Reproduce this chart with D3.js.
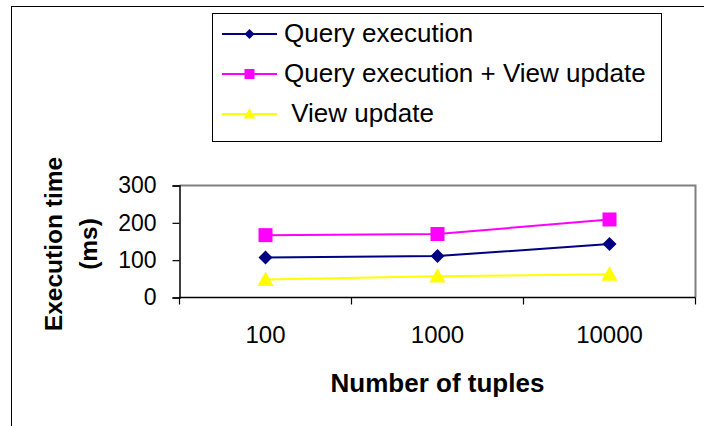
<!DOCTYPE html>
<html>
<head>
<meta charset="utf-8">
<script src="https://cdn.jsdelivr.net/npm/d3@7"></script>
<style>
  body { margin: 0; background: #fff; }
  svg { display: block; font-family: "Liberation Sans", Arial, sans-serif; }
</style>
</head>
<body>
<div id="chart"></div>
<script>
// chart data
const categories = ["100", "1000", "10000"];
const queryExec = [107, 111, 143];
const queryExecViewUpdate = [167, 170, 209];
const viewUpdate = [48, 57, 62];
const yTicks = [0, 100, 200, 300];

const seriesList = [
    { name: "Query execution", values: queryExec, color: "#000080", marker: "diamond" },
    { name: "Query execution + View update", values: queryExecViewUpdate, color: "#FF00FF", marker: "square" },
    { name: " View update", values: viewUpdate, color: "#FFFF00", marker: "triangle" }
];

const width = 704;
const height = 426;
const plot = { left: 179.5, right: 695.5, top: 185.5, bottom: 297.5 };

const svg = d3.select("#chart")
    .append("svg")
    .attr("width", width)
    .attr("height", height);

// outer chart border (extends past the window)
svg.append("rect")
    .attr("x", 11.5).attr("y", 6.5)
    .attr("width", 720).attr("height", 440)
    .attr("fill", "none")
    .attr("stroke", "#000")
    .attr("stroke-width", 1);

const x = d3.scaleBand()
    .domain(categories)
    .range([plot.left, plot.right])
    .padding(0);

const y = d3.scaleLinear()
    .domain([0, 300])
    .range([plot.bottom, plot.top]);

// plot area frame (gray top/right)
svg.append("path")
    .attr("d", `M${plot.left},${plot.top}H${plot.right}V${plot.bottom}`)
    .attr("fill", "none")
    .attr("stroke", "#808080")
    .attr("stroke-width", 2);

// y axis
const yAxis = svg.append("g")
    .attr("transform", `translate(${plot.left},0)`)
    .call(d3.axisLeft(y).tickValues(yTicks).tickSize(7).tickPadding(16).tickFormat(d3.format("d")));
yAxis.select(".domain").attr("stroke", "#000").attr("stroke-width", 1.5);
yAxis.selectAll(".tick line").attr("stroke", "#000").attr("stroke-width", 1.2);
yAxis.selectAll(".tick text")
    .attr("fill", "#000")
    .style("font-size", "23px")
    .style("font-family", "Liberation Sans, Arial, sans-serif");

// x axis: ticks at category boundaries
const xAxis = svg.append("g")
    .attr("transform", `translate(0,${plot.bottom})`);
xAxis.append("line")
    .attr("x1", plot.left).attr("x2", plot.right)
    .attr("stroke", "#000").attr("stroke-width", 1.5);
const boundaries = categories.map(c => x(c)).concat([x(categories[categories.length - 1]) + x.bandwidth()]);
xAxis.selectAll(".xtick")
    .data(boundaries)
    .enter()
    .append("line")
    .attr("class", "xtick")
    .attr("x1", d => d).attr("x2", d => d)
    .attr("y1", 0).attr("y2", 7)
    .attr("stroke", "#000").attr("stroke-width", 1.2);
xAxis.selectAll(".xlabel")
    .data(categories)
    .enter()
    .append("text")
    .attr("class", "xlabel")
    .attr("x", d => x(d) + x.bandwidth() / 2)
    .attr("y", 45)
    .attr("text-anchor", "middle")
    .style("font-size", "24px")
    .text(d => d);

// axis titles
svg.append("text")
    .attr("x", (plot.left + plot.right) / 2)
    .attr("y", 392)
    .attr("text-anchor", "middle")
    .style("font-size", "26px")
    .style("font-weight", "bold")
    .text("Number of tuples");

const yTitle = svg.append("text")
    .attr("transform", "translate(0,244) rotate(-90)")
    .attr("text-anchor", "middle")
    .style("font-size", "24.5px")
    .style("font-weight", "bold");
yTitle.append("tspan").attr("x", 0).attr("y", 62).text("Execution time");
yTitle.append("tspan").attr("x", 0).attr("y", 97).text("(ms)");

// marker shapes
function drawMarker(g, type, color, size) {
    if (type === "diamond") {
        g.append("path")
            .attr("d", `M0,${-size}L${size},0L0,${size}L${-size},0Z`)
            .attr("fill", color);
    } else if (type === "square") {
        g.append("rect")
            .attr("x", -size).attr("y", -size)
            .attr("width", size * 2).attr("height", size * 2)
            .attr("fill", color);
    } else {
        g.append("path")
            .attr("d", `M0,${-size * 1.15}L${size * 1.15},${size * 0.9}L${-size * 1.15},${size * 0.9}Z`)
            .attr("fill", color);
    }
}

const line = d3.line()
    .x((d, i) => x(categories[i]) + x.bandwidth() / 2)
    .y(d => y(d));

seriesList.forEach(s => {
    svg.append("path")
        .datum(s.values)
        .attr("d", line)
        .attr("fill", "none")
        .attr("stroke", s.color)
        .attr("stroke-width", 2);

    s.values.forEach((v, i) => {
        const g = svg.append("g")
            .attr("transform", `translate(${x(categories[i]) + x.bandwidth() / 2},${y(v)})`);
        drawMarker(g, s.marker, s.color, 7);
    });
});

// legend
const legend = svg.append("g");
legend.append("rect")
    .attr("x", 212.5).attr("y", 13.5)
    .attr("width", 449).attr("height", 128)
    .attr("fill", "#fff")
    .attr("stroke", "#000")
    .attr("stroke-width", 1);

seriesList.forEach((s, i) => {
    const ly = 34 + i * 40;
    const item = legend.append("g");
    item.append("line")
        .attr("x1", 222).attr("x2", 277)
        .attr("y1", ly).attr("y2", ly)
        .attr("stroke", s.color)
        .attr("stroke-width", 2);
    const m = item.append("g").attr("transform", `translate(249.5,${ly})`);
    drawMarker(m, s.marker, s.color, 5);
    item.append("text")
        .attr("x", 284)
        .attr("y", ly + 8)
        .style("font-size", "26px")
        .attr("xml:space", "preserve")
        .style("white-space", "pre")
        .text(s.name);
});
</script>
</body>
</html>
